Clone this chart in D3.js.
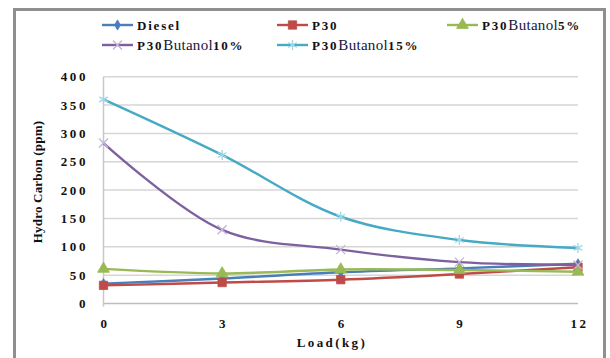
<!DOCTYPE html>
<html>
<head>
<meta charset="utf-8">
<script src="https://cdn.jsdelivr.net/npm/d3@7"></script>
<style>
  html, body { margin: 0; padding: 0; background: #fff; }
  svg { display: block; }
</style>
</head>
<body>
<svg id="chart" width="610" height="358"></svg>
<script>
// Hydrocarbon emissions vs engine load
const loads = [0, 3, 6, 9, 12];
const diesel = [35, 44, 55, 62, 70];
const p30 = [32, 37, 42, 52, 64];
const p30Butanol5 = [61, 53, 60, 59, 56];
const p30Butanol10 = [283, 130, 95, 73, 68];
const p30Butanol15 = [360, 262, 153, 112, 98];
const yTicks = [0, 50, 100, 150, 200, 250, 300, 350, 400];

const series = [
  { name: "Diesel", parts: ["Diesel"], values: diesel, color: "#4a7ebb", mark: "#4a7ebb", shape: "diamond" },
  { name: "P30", parts: ["P30"], values: p30, color: "#be4b48", mark: "#be4b48", shape: "square" },
  { name: "P30Butanol5%", parts: ["P30", "Butanol", "5%"], values: p30Butanol5, color: "#98b954", mark: "#98b954", shape: "triangle" },
  { name: "P30Butanol10%", parts: ["P30", "Butanol", "10%"], values: p30Butanol10, color: "#7d60a0", mark: "#c3b3d8", shape: "cross" },
  { name: "P30Butanol15%", parts: ["P30", "Butanol", "15%"], values: p30Butanol15, color: "#46aac5", mark: "#9fd6e6", shape: "star" }
];

const SERIF = "'Liberation Serif'";
const label = sel => sel
  .style("font-family", SERIF).style("font-weight", "bold")
  .style("font-size", "13px").attr("fill", "#111");

const svg = d3.select("#chart");

// chart frame
svg.append("rect")
  .attr("x", 14.5).attr("y", 9.5).attr("width", 590).attr("height", 360)
  .attr("fill", "#fff").attr("stroke", "#8f8f8f").attr("stroke-width", 3);

const x = d3.scalePoint().domain(loads).range([103.5, 578]);
const y = d3.scaleLinear().domain([0, 400]).range([303.5, 76.7]);

// horizontal gridlines
svg.append("g").selectAll("line").data(yTicks).join("line")
  .attr("x1", 103.5).attr("x2", 578)
  .attr("y1", d => y(d)).attr("y2", d => y(d))
  .attr("stroke", d => d === 0 ? "#bdbdbd" : "#d6d6d6").attr("stroke-width", 1.5);

// vertical axis line
svg.append("line")
  .attr("x1", 103.5).attr("x2", 103.5).attr("y1", y(400)).attr("y2", y(0) + 3)
  .attr("stroke", "#c8c8c8").attr("stroke-width", 1.5);

// y axis labels
svg.append("g").selectAll("text").data(yTicks).join("text")
  .attr("x", 88).attr("y", d => y(d))
  .attr("text-anchor", "end").attr("dominant-baseline", "central")
  .call(label).style("letter-spacing", "2.6px")
  .text(d => d);

// x axis labels
svg.append("g").selectAll("text").data(loads).join("text")
  .attr("x", d => x(d) + 1.5).attr("y", 323)
  .attr("text-anchor", "middle").attr("dominant-baseline", "central")
  .call(label).style("letter-spacing", "2.6px")
  .text(d => d);

// axis titles
svg.append("text")
  .attr("x", 332).attr("y", 342)
  .attr("text-anchor", "middle").attr("dominant-baseline", "central")
  .call(label).style("letter-spacing", "2.4px")
  .text("Load(kg)");

svg.append("text")
  .attr("transform", "translate(37,182) rotate(-90)")
  .attr("text-anchor", "middle").attr("dominant-baseline", "central")
  .call(label).style("letter-spacing", "0.2px")
  .text("Hydro Carbon (ppm)");

const symbolFor = shape => ({
  diamond: d3.symbol().type(d3.symbolDiamond).size(30),
  square: d3.symbol().type(d3.symbolSquare).size(70),
  triangle: d3.symbol().type(d3.symbolTriangle).size(60),
  cross: d3.symbol().type(d3.symbolTimes).size(55),
  star: d3.symbol().type(d3.symbolAsterisk).size(70)
})[shape];

function drawMarker(g, s, cx, cy) {
  const open = s.shape === "cross" || s.shape === "star";
  g.append("path")
    .attr("transform", `translate(${cx},${cy})`)
    .attr("d", symbolFor(s.shape)())
    .attr("fill", open ? "none" : s.mark)
    .attr("stroke", s.mark)
    .attr("stroke-width", open ? 1.3 : 0.8);
}

const line = d3.line()
  .x((d, i) => x(loads[i]))
  .y(d => y(d))
  .curve(d3.curveCatmullRom.alpha(0.5));

series.forEach(s => {
  const g = svg.append("g");
  g.append("path")
    .attr("d", line(s.values))
    .attr("fill", "none").attr("stroke", s.color).attr("stroke-width", 2.4);
  s.values.forEach((v, i) => drawMarker(g, s, x(loads[i]), y(v)));
});

// legend
const legendPos = [
  [102, 25], [277, 25], [447, 25],
  [102, 45], [277, 45]
];
series.forEach((s, i) => {
  const [lx, ly] = legendPos[i];
  const g = svg.append("g");
  g.append("line").attr("x1", lx).attr("x2", lx + 31).attr("y1", ly).attr("y2", ly)
    .attr("stroke", s.color).attr("stroke-width", 2.4);
  drawMarker(g, s, lx + 15.5, ly);
  const t = g.append("text").attr("x", lx + 35).attr("y", ly)
    .attr("dominant-baseline", "central")
    .call(label).style("letter-spacing", "1.8px");
  s.parts.forEach(p => {
    const ts = t.append("tspan").text(p);
    if (p === "Butanol") {
      ts.style("font-weight", "normal").style("font-size", "15px")
        .style("letter-spacing", "0.3px").attr("fill", "#16163a");
    }
  });
});
</script>
</body>
</html>
